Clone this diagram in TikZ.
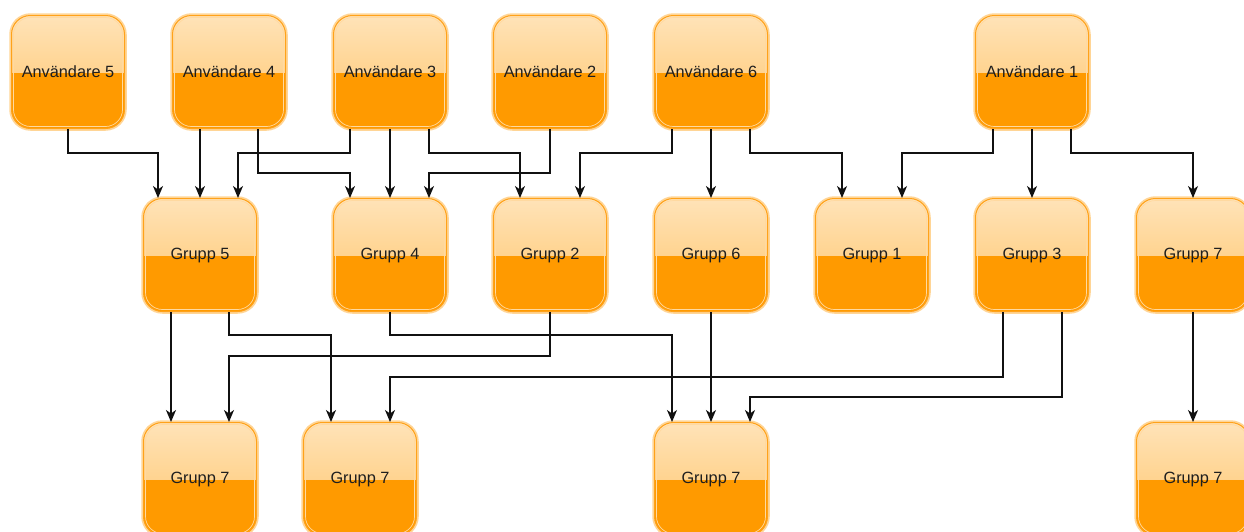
\documentclass[tikz,border=0pt]{standalone}
\usepackage{fontspec}
\setmainfont{Liberation Sans}
\usetikzlibrary{arrows.meta}

\definecolor{boxtop}{HTML}{FFE3B8}
\definecolor{boxmid}{HTML}{FFC468}
\definecolor{boxlow}{HTML}{FF9A00}
\definecolor{boxedge}{HTML}{FFA21A}
\definecolor{boxglow}{HTML}{FFD596}
\definecolor{boxhi}{HTML}{FFD9A0}
\definecolor{wire}{HTML}{111111}
\definecolor{label}{HTML}{1E1E1E}

\tikzset{
  box/.style={
    rectangle, rounded corners=19pt,
    minimum width=113pt, minimum height=113pt, inner sep=0pt,
    draw=boxedge, line width=1pt, fill=boxlow,
    preaction={draw=boxglow, line width=4.5pt},
    path picture={
      % glossy upper half
      \shade[sharp corners, top color=boxtop, bottom color=boxmid]
        (path picture bounding box.north west) rectangle (path picture bounding box.east);
      % thin inner highlight
      \draw[boxhi, line width=0.7pt, rounded corners=17pt]
        ([shift={(2pt,-2pt)}]path picture bounding box.north west) rectangle
        ([shift={(-2pt,2pt)}]path picture bounding box.south east);
    },
    text=label, font=\fontsize{16.3}{19}\selectfont
  },
  arr/.style={draw=wire, line width=1.3pt,
    -{Stealth[length=12pt, width=10pt, inset=3.5pt]}}
}

\begin{document}
\begin{tikzpicture}[x=1pt, y=-1pt]
  \useasboundingbox (0,0) rectangle (1244,531);
  \clip (0,0) rectangle (1244,531);

  % users
  \node[box] (A5) at (68,72)   {Användare 5};
  \node[box] (A4) at (229,72)  {Användare 4};
  \node[box] (A3) at (390,72)  {Användare 3};
  \node[box] (A2) at (550,72)  {Användare 2};
  \node[box] (A6) at (711,72)  {Användare 6};
  \node[box] (A1) at (1032,72) {Användare 1};

  % groups
  \node[box] (G5) at (200,255)  {Grupp 5};
  \node[box] (G4) at (390,255)  {Grupp 4};
  \node[box] (G2) at (550,255)  {Grupp 2};
  \node[box] (G6) at (711,255)  {Grupp 6};
  \node[box] (G1) at (872,255)  {Grupp 1};
  \node[box] (G3) at (1032,255) {Grupp 3};
  \node[box] (G7) at (1193,255) {Grupp 7};

  % lower groups
  \node[box] (B1) at (200,479)  {Grupp 7};
  \node[box] (B2) at (360,479)  {Grupp 7};
  \node[box] (B3) at (711,479)  {Grupp 7};
  \node[box] (B4) at (1193,479) {Grupp 7};

  % users -> groups
  \draw[arr] (A5.south) -- ++(0,24) -| ([xshift=-42pt]G5.north);
  \draw[arr] ([xshift=-29pt]A4.south) -- ([xshift=0pt]G5.north);
  \draw[arr] ([xshift=29pt]A4.south) -- ++(0,44) -| ([xshift=-40pt]G4.north);
  \draw[arr] ([xshift=-40pt]A3.south) -- ++(0,24) -| ([xshift=38pt]G5.north);
  \draw[arr] (A3.south) -- (G4.north);
  \draw[arr] ([xshift=39pt]A3.south) -- ++(0,24) -| ([xshift=-30pt]G2.north);
  \draw[arr] (A2.south) -- ++(0,44) -| ([xshift=39pt]G4.north);
  \draw[arr] ([xshift=-39pt]A6.south) -- ++(0,24) -| ([xshift=30pt]G2.north);
  \draw[arr] (A6.south) -- (G6.north);
  \draw[arr] ([xshift=39pt]A6.south) -- ++(0,24) -| ([xshift=-30pt]G1.north);
  \draw[arr] ([xshift=-39pt]A1.south) -- ++(0,24) -| ([xshift=30pt]G1.north);
  \draw[arr] (A1.south) -- (G3.north);
  \draw[arr] ([xshift=39pt]A1.south) -- ++(0,24) -| (G7.north);

  % groups -> lower groups
  \draw[arr] ([xshift=-29pt]G5.south) -- ([xshift=-29pt]B1.north);
  \draw[arr] ([xshift=29pt]G5.south) -- ++(0,23) -| ([xshift=-29pt]B2.north);
  \draw[arr] (G4.south) -- ++(0,23) -| ([xshift=-39pt]B3.north);
  \draw[arr] (G2.south) -- ++(0,44) -| ([xshift=29pt]B1.north);
  \draw[arr] (G6.south) -- (B3.north);
  \draw[arr] ([xshift=-29pt]G3.south) -- ++(0,65) -| ([xshift=30pt]B2.north);
  \draw[arr] ([xshift=30pt]G3.south) -- ++(0,85) -| ([xshift=39pt]B3.north);
  \draw[arr] (G7.south) -- (B4.north);
\end{tikzpicture}
\end{document}
